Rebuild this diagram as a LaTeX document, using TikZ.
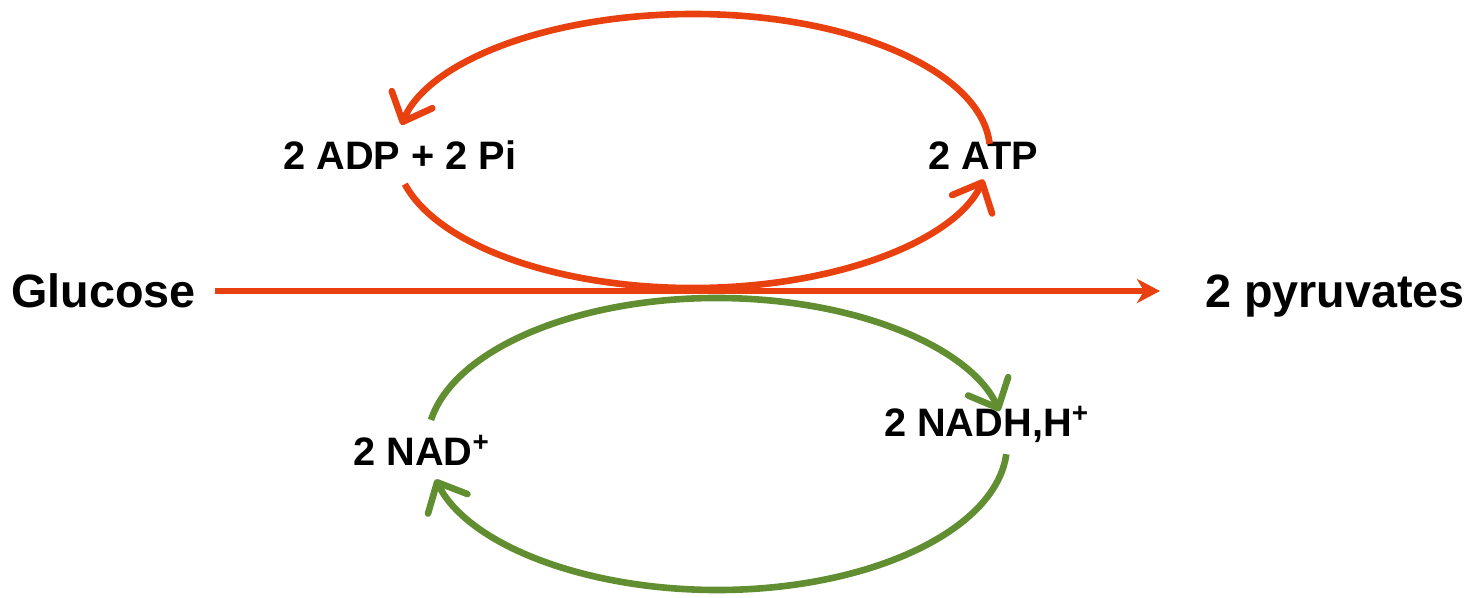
\documentclass[tikz,border=0pt]{standalone}
\usepackage{fontspec}
\setmainfont{Liberation Sans}
\usetikzlibrary{arrows.meta}
\definecolor{glyorange}{RGB}{232,64,14}
\definecolor{glygreen}{RGB}{98,142,50}

\begin{document}
\begin{tikzpicture}[
bigtext/.style={font=\fontsize{13.3}{15}\selectfont\bfseries, anchor=base, inner sep=0pt},
smalltext/.style={font=\fontsize{11.3}{13}\selectfont\bfseries, anchor=base, inner sep=0pt},
cyclearrow/.style={line width=0.066cm, -{Straight Barb[length=0.24cm, width=0.44cm, round]}},
mainarrow/.style={line width=0.062cm, draw=glyorange, -{Stealth[length=0.23cm, width=0.24cm, inset=0.07cm]}},
]
    \useasboundingbox (0,0) rectangle (14.78,5.97);

    \node [bigtext] (glu) at (1.035,2.90) {Glucose};
    \node [bigtext] (pyr) at (13.35,2.90) {2 pyruvates};

    \node [smalltext] (adp) at (4.00,4.28) {2 ADP + 2 Pi};
    \node [smalltext] (atp) at (9.835,4.28) {2 ATP};

    \node [smalltext] (nad) at (4.22,1.32) {2 NAD\textsuperscript{+}};
    \node [smalltext] (nadh) at (9.87,1.61) {2 NADH,H\textsuperscript{+}};

    % centres of the two cycles
    \coordinate (topc) at (6.93,4.46);
    \coordinate (botc) at (7.17,1.53);

    \coordinate (hstart) at (2.15,3.06);
    \coordinate (hend) at (11.60,3.06);
    \draw [mainarrow] (hstart) -- (hend);

    % ATP cycle
    \path (topc) ++(194:2.97 and 1.37) coordinate (adpout);
    \path (topc) ++(3:2.97 and 1.37) coordinate (atpout);
    \draw [cyclearrow, glyorange] (adpout) arc[start angle=194, end angle=348, x radius=2.97, y radius=1.37];
    \draw [cyclearrow, glyorange] (atpout) arc[start angle=3, end angle=169, x radius=2.97, y radius=1.37];

    % NAD cycle
    \path (botc) ++(170.5:2.90 and 1.46) coordinate (nadout);
    \path (botc) ++(-4:2.90 and 1.46) coordinate (nadhout);
    \draw [cyclearrow, glygreen] (nadout) arc[start angle=170.5, end angle=13, x radius=2.90, y radius=1.46];
    \draw [cyclearrow, glygreen] (nadhout) arc[start angle=-4, end angle=-166, x radius=2.90, y radius=1.46];
\end{tikzpicture}
\end{document}
